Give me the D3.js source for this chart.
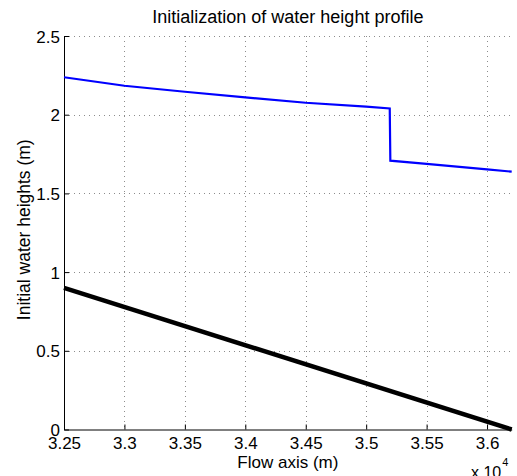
<!DOCTYPE html>
<html>
<head>
<meta charset="utf-8">
<script src="https://cdn.jsdelivr.net/npm/d3@7"></script>
<style>
  html, body { margin: 0; padding: 0; background: #fff; }
  svg { display: block; font-family: "Liberation Sans", Arial, sans-serif; }
</style>
</head>
<body>
<svg id="chart" width="517" height="476"></svg>
<script>
// Flow axis positions (m) and the water surface profile
const surfaceX = [32500, 33000, 33500, 34000, 34500, 35000, 35195, 35200, 35500, 36000, 36204];
const surfaceY = [2.238, 2.184, 2.146, 2.110, 2.076, 2.051, 2.040, 1.708, 1.687, 1.653, 1.638];
// Channel bed (straight slope)
const bedX = [32500, 36204];
const bedY = [0.9, 0.0];

const xTicks = [32500, 33000, 33500, 34000, 34500, 35000, 35500, 36000];
const xTickLabels = ["3.25", "3.3", "3.35", "3.4", "3.45", "3.5", "3.55", "3.6"];
const yTicks = [0, 0.5, 1, 1.5, 2, 2.5];
const yTickLabels = ["0", "0.5", "1", "1.5", "2", "2.5"];

const margin = { left: 64, right: 5.3, top: 36, bottom: 46.5 };
const W = 517, H = 476;
const svg = d3.select("#chart");

const x = d3.scaleLinear().domain([32500, 36204]).range([margin.left, W - margin.right]);
const y = d3.scaleLinear().domain([0, 2.5]).range([H - margin.bottom, margin.top]);

// dotted grid
const grid = svg.append("g").attr("stroke", "#8c8c8c").attr("stroke-width", 1)
  .attr("stroke-dasharray", "1,4").attr("shape-rendering", "crispEdges");
grid.selectAll("line.gx").data(xTicks.slice(1)).join("line")
  .attr("x1", d => Math.round(x(d)) + 0.5).attr("x2", d => Math.round(x(d)) + 0.5)
  .attr("y1", y(2.5)).attr("y2", y(0));
grid.selectAll("line.gy").data(yTicks.slice(1)).join("line")
  .attr("y1", d => Math.round(y(d)) + 0.5).attr("y2", d => Math.round(y(d)) + 0.5)
  .attr("x1", x.range()[0]).attr("x2", x.range()[1]);

// axes with inward ticks
const xAxis = d3.axisBottom(x).tickValues(xTicks).tickFormat((d, i) => xTickLabels[i])
  .tickSizeInner(-5).tickSizeOuter(0).tickPadding(8);
const yAxis = d3.axisLeft(y).tickValues(yTicks).tickFormat((d, i) => yTickLabels[i])
  .tickSizeInner(-5).tickSizeOuter(0).tickPadding(4);

const gx = svg.append("g").attr("transform", `translate(0,${y(0)})`).call(xAxis);
const gy = svg.append("g").attr("transform", `translate(${x.range()[0]},0)`).call(yAxis);
[gx, gy].forEach(g => {
  g.selectAll("text").attr("font-size", 17).attr("fill", "#000")
    .attr("font-family", "Liberation Sans, Arial, sans-serif");
  g.selectAll("line, path").attr("stroke", "#000");
});
gx.selectAll("text").attr("y", 19.5).attr("dy", 0);
gy.selectAll("text").attr("dy", "0.36em");

// profiles
const line = d3.line().x(d => x(d[0])).y(d => y(d[1]));
svg.append("path").datum(bedX.map((v, i) => [v, bedY[i]]))
  .attr("d", line).attr("fill", "none").attr("stroke", "#000").attr("stroke-width", 4.5);
svg.append("path").datum(surfaceX.map((v, i) => [v, surfaceY[i]]))
  .attr("d", line).attr("fill", "none").attr("stroke", "#0000ff").attr("stroke-width", 2.2);

// titles
const cx = (x.range()[0] + x.range()[1]) / 2;
svg.append("text").attr("x", cx).attr("y", 23)
  .attr("text-anchor", "middle").attr("font-size", 18).text("Initialization of water height profile");
svg.append("text").attr("x", cx).attr("y", 468)
  .attr("text-anchor", "middle").attr("font-size", 17).text("Flow axis (m)");
svg.append("text").attr("transform", `translate(30,${(y(0) + y(2.5)) / 2 - 3}) rotate(-90)`)
  .attr("text-anchor", "middle").attr("font-size", 17.5).text("Initial water heights (m)");
const mult = svg.append("text").attr("x", 471).attr("y", 478).attr("font-size", 16);
mult.append("tspan").text("x 10");
mult.append("tspan").attr("dx", 1).attr("dy", -12).attr("font-size", 11).text("4");
</script>
</body>
</html>
